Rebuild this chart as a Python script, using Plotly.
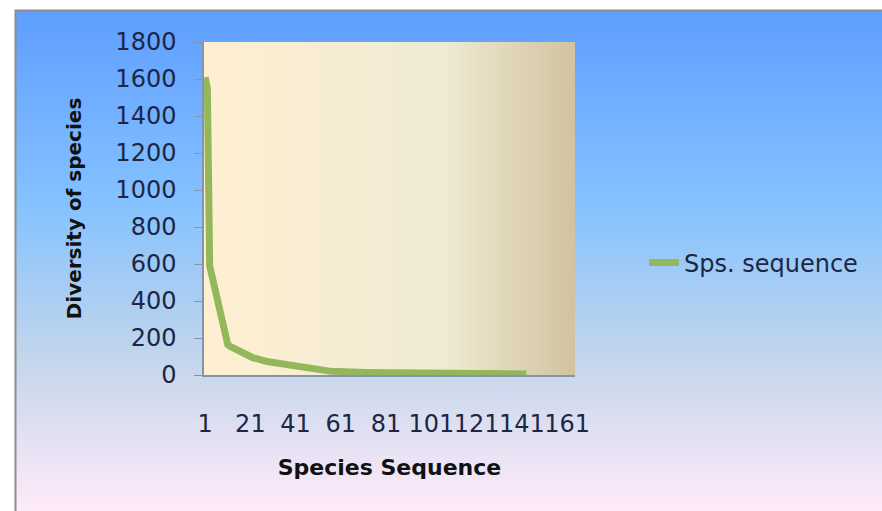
import base64
import plotly.graph_objects as go

# ---------------- data ----------------
series_name = "Sps. sequence"
species_values = [
    1610, 1550, 590, 540, 480, 430, 380, 330, 280, 215,   # 1-10
    165, 155, 150, 145, 140, 135, 128, 120, 113, 106,     # 11-20
    100, 94, 89, 84, 81, 78, 76, 74, 72, 70,              # 21-30
    67, 65, 62, 60, 57, 54, 52, 49, 47, 45,               # 31-40
    42, 40, 38, 36, 34, 32, 30, 29, 28, 27,               # 41-50
    26, 25, 24, 23, 22, 21, 20, 19, 18, 17,               # 51-60
    17, 16, 16, 16, 15, 15, 15, 15, 14, 14,               # 61-70
    14, 14, 14, 13, 13, 13, 13, 13, 13, 12,               # 71-80
    12, 12, 12, 12, 12, 12, 12, 11, 11, 11,               # 81-90
    11, 11, 11, 11, 11, 10, 10, 10, 10, 10,               # 91-100
    9, 9, 9, 9, 9, 9, 9, 9, 9, 9,                         # 101-110
    8, 8, 8, 8, 8, 8, 8, 8, 8, 8,                         # 111-120
    8, 8, 7, 7, 7, 7, 7, 7, 7, 7,                         # 121-130
    7, 7, 7, 6, 6, 6, 6, 6, 6, 6,                         # 131-140
    6, 6, 6,                                              # 141-143
]
species_seq = list(range(1, len(species_values) + 1))
n_categories = 164
x_tick_vals = [1, 21, 41, 61, 81, 101, 121, 141, 161]
x_tick_text = [str(v) for v in x_tick_vals]
y_tick_vals = [0, 200, 400, 600, 800, 1000, 1200, 1400, 1600, 1800]

# ---------------- layout geometry ----------------
W, H = 882, 511
ML, MR, MT, MB = 204, 307, 42, 136
pw, ph = W - ML - MR, H - MT - MB

def svg_uri(svg):
    return "data:image/svg+xml;base64," + base64.b64encode(svg.encode()).decode()

chart_bg = f'''<svg xmlns="http://www.w3.org/2000/svg" width="{W}" height="{H}" viewBox="0 0 {W} {H}" preserveAspectRatio="none">
<defs><linearGradient id="g" x1="0" y1="0" x2="0" y2="1">
<stop offset="0" stop-color="#5E9EFF"/><stop offset="0.39" stop-color="#85C2FF"/>
<stop offset="0.70" stop-color="#C4D6EB"/><stop offset="1" stop-color="#FFEBFA"/>
</linearGradient></defs>
<rect width="{W}" height="{H}" fill="#ffffff"/>
<rect x="15" y="10" width="{W-15}" height="{H-10}" fill="url(#g)"/>
<path d="M15.5,{H} V10.5 H{W}" stroke="#8C8C8C" stroke-width="2" fill="none"/>
</svg>'''

plot_bg = '''<svg xmlns="http://www.w3.org/2000/svg" width="100" height="100" viewBox="0 0 100 100" preserveAspectRatio="none">
<defs><linearGradient id="p" x1="0" y1="0" x2="1" y2="0">
<stop offset="0" stop-color="#FFEFD1"/><stop offset="0.64" stop-color="#F0EBD5"/>
<stop offset="1" stop-color="#D1C39F"/></linearGradient></defs>
<rect width="100" height="100" fill="url(#p)"/>
</svg>'''

fig = go.Figure()
fig.add_trace(go.Scatter(
    x=species_seq, y=species_values, mode="lines", name=series_name,
    line=dict(color="#93B85B", width=7), showlegend=True,
))

tick_font = dict(family="DejaVu Sans", size=24, color="#1C2745")

fig.update_layout(
    width=W, height=H,
    margin=dict(l=ML, r=MR, t=MT, b=MB, pad=0),
    paper_bgcolor="#ffffff",
    plot_bgcolor="rgba(0,0,0,0)",
    showlegend=True,
    legend=dict(
        x=(644 - ML) / pw, y=(375 - 263) / ph, xanchor="left", yanchor="middle",
        bgcolor="rgba(0,0,0,0)", font=dict(family="DejaVu Sans", size=24, color="#1C2745"),
    ),
    images=[
        dict(source=svg_uri(chart_bg), xref="paper", yref="paper",
             x=-ML / pw, y=1 + MT / ph, sizex=W / pw, sizey=H / ph,
             xanchor="left", yanchor="top", sizing="stretch", layer="below"),
        dict(source=svg_uri(plot_bg), xref="paper", yref="paper",
             x=0, y=1, sizex=1, sizey=1,
             xanchor="left", yanchor="top", sizing="stretch", layer="below"),
    ],
    xaxis=dict(
        range=[0.5, n_categories + 0.5], tickmode="array",
        tickvals=x_tick_vals, ticktext=x_tick_text, tickangle=0,
        ticks="", showgrid=False, zeroline=False,
        showline=True, linecolor="#8593AD", linewidth=1.5,
        tickfont=tick_font, ticklabelstandoff=26,
        title=dict(text="<b>Species Sequence</b>",
                   font=dict(family="DejaVu Sans", size=22, color="#111111"), standoff=23),
    ),
    yaxis=dict(
        range=[0, 1800], tickmode="array", tickvals=y_tick_vals,
        ticks="outside", ticklen=8, tickcolor="#8593AD", tickwidth=1,
        showgrid=False, zeroline=False,
        showline=True, linecolor="#8593AD", linewidth=1.5,
        tickfont=tick_font, ticklabelstandoff=13,
        title=dict(text="<b>Diversity of species</b>",
                   font=dict(family="DejaVu Sans", size=20, color="#111111"), standoff=28),
    ),
)

fig.write_html("out.html")
